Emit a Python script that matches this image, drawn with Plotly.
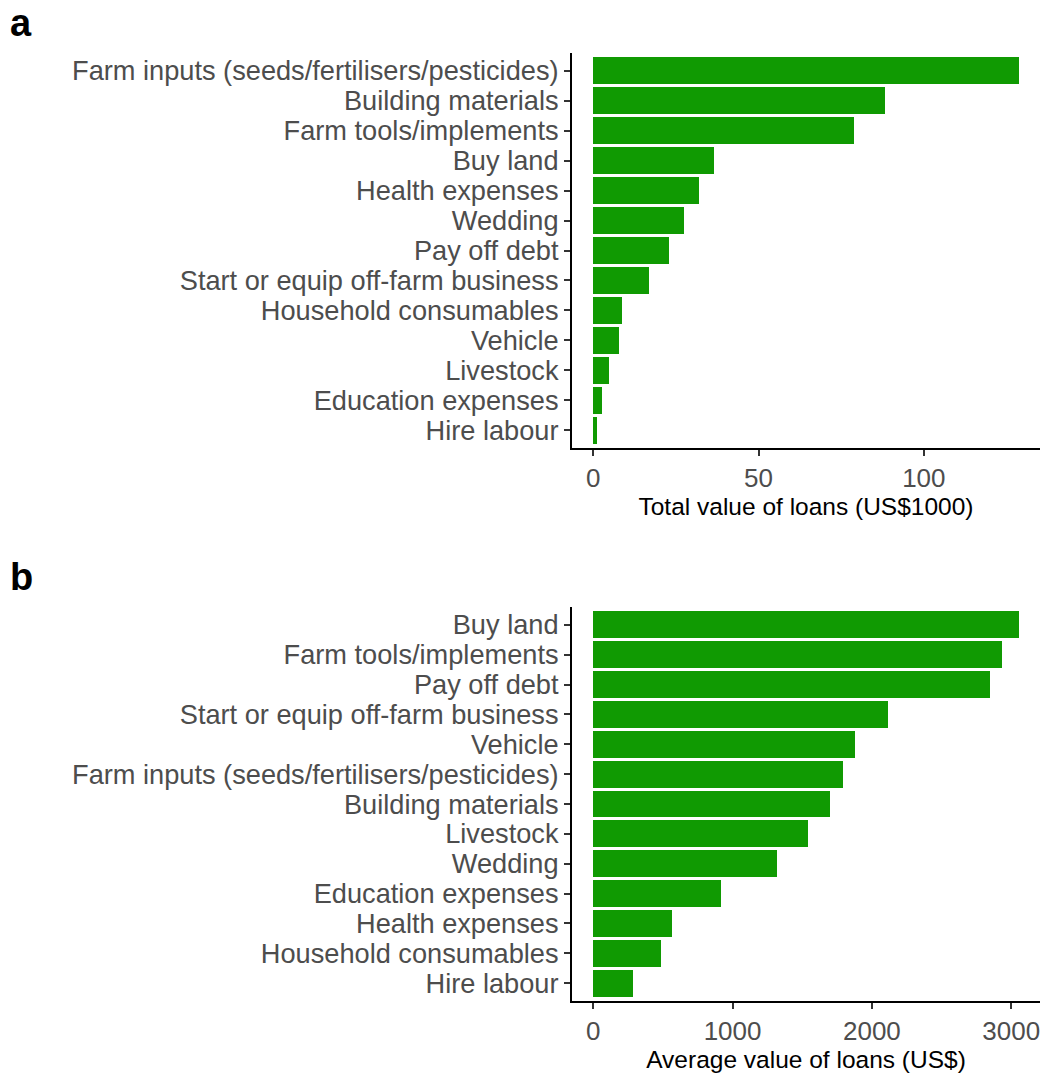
import plotly.graph_objects as go

# Panel a: total value of loans (US$1000)
cats_a = ["Farm inputs (seeds/fertilisers/pesticides)", "Building materials",
          "Farm tools/implements", "Buy land", "Health expenses", "Wedding",
          "Pay off debt", "Start or equip off-farm business",
          "Household consumables", "Vehicle", "Livestock",
          "Education expenses", "Hire labour"]
vals_a = [128.7, 88.1, 79.0, 36.6, 32.0, 27.5, 22.9, 17.0, 8.8, 7.7, 4.7, 2.7, 1.1]

# Panel b: average value of loans (US$)
cats_b = ["Buy land", "Farm tools/implements", "Pay off debt",
          "Start or equip off-farm business", "Vehicle",
          "Farm inputs (seeds/fertilisers/pesticides)", "Building materials",
          "Livestock", "Wedding", "Education expenses", "Health expenses",
          "Household consumables", "Hire labour"]
vals_b = [3054, 2932, 2846, 2115, 1876, 1792, 1697, 1544, 1317, 920, 562, 483, 282]

ticks_a = [0, 50, 100]
ticks_b = [0, 1000, 2000, 3000]

GREEN = "#109A02"
FONT = "Liberation Sans, Arial, sans-serif"
W, H = 1043, 1075

fig = go.Figure()
fig.add_trace(go.Bar(x=vals_a, y=cats_a, orientation="h", width=0.9,
                     marker=dict(color=GREEN, line=dict(width=0)),
                     xaxis="x", yaxis="y", showlegend=False))
fig.add_trace(go.Bar(x=vals_b, y=cats_b, orientation="h", width=0.9,
                     marker=dict(color=GREEN, line=dict(width=0)),
                     xaxis="x2", yaxis="y2", showlegend=False))

xdom = [572 / W, 1040 / W]
ydom_a = [(H - 448) / H, (H - 53) / H]
ydom_b = [(H - 1001) / H, (H - 607) / H]

def xaxis(dom, anchor, maxv, ticks, title):
    return dict(domain=dom, anchor=anchor, range=[-0.05 * maxv, 1.05 * maxv],
                tickmode="array", tickvals=ticks,
                showline=True, linecolor="black", linewidth=2,
                ticks="outside", ticklen=6, tickwidth=2, tickcolor="#333333",
                tickfont=dict(size=26, color="#4D4D4D", family=FONT),
                showgrid=False, zeroline=False,
                title=dict(text=title, font=dict(size=24.5, color="black", family=FONT), standoff=4))

def yaxis(dom, anchor, cats):
    n = len(cats)
    return dict(domain=dom, anchor=anchor, categoryorder="array", categoryarray=cats,
                tickmode="array", tickvals=cats, ticktext=cats,
                range=[n - 0.4, -0.6], showline=True, linecolor="black", linewidth=2,
                ticks="outside", ticklen=6, tickwidth=2, tickcolor="#333333",
                tickfont=dict(size=27.2, color="#4D4D4D", family=FONT),
                showgrid=False, zeroline=False)

fig.update_layout(
    width=W, height=H, margin=dict(l=0, r=0, t=0, b=0),
    plot_bgcolor="white", paper_bgcolor="white",
    font=dict(family=FONT),
    bargap=0,
    xaxis=xaxis(xdom, "y", max(vals_a), ticks_a, "Total value of loans (US$1000)"),
    yaxis=yaxis(ydom_a, "x", cats_a),
    xaxis2=xaxis(xdom, "y2", max(vals_b), ticks_b, "Average value of loans (US$)"),
    yaxis2=yaxis(ydom_b, "x2", cats_b),
    annotations=[
        dict(text="<b>a</b>", x=8 / W, y=1.0, xref="paper", yref="paper",
             xanchor="left", yanchor="top", showarrow=False,
             font=dict(size=38, color="black", family=FONT)),
        dict(text="<b>b</b>", x=8 / W, y=1 - 554 / H, xref="paper", yref="paper",
             xanchor="left", yanchor="top", showarrow=False,
             font=dict(size=38, color="black", family=FONT)),
    ],
)

fig.write_html("out.html")
